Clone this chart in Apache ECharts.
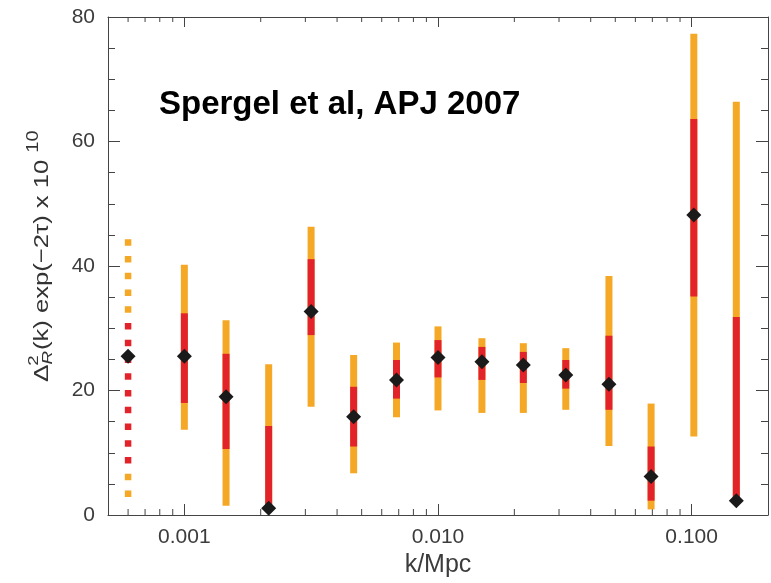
<!DOCTYPE html>
<html><head><meta charset="utf-8">
<script src="https://cdn.jsdelivr.net/npm/echarts@6/dist/echarts.min.js"></script>
<style>html,body{margin:0;padding:0;background:#fff}#c{width:771px;height:583px}</style>
</head><body><div id="c"></div>
<script>
// wavenumber k (1/Mpc) of each band
const kValues   = [0.0006, 0.001, 0.00146, 0.00215, 0.00316, 0.00465, 0.00686, 0.0100, 0.0149, 0.0217, 0.0319, 0.0472, 0.0692, 0.102, 0.150];
// best-fit amplitude (diamonds)
const centerVals = [25.5, 25.5, 19.0, 1.1, 32.7, 15.8, 21.7, 25.3, 24.6, 24.1, 22.5, 21.0, 6.2, 48.2, 2.3];
// 68% range (red)
const redLow   = [8.5, 18.0, 10.6, 1.1, 28.9, 11.0, 18.7, 22.1, 21.7, 21.2, 20.3, 16.9, 2.3, 35.1, 2.3];
const redHigh  = [30.8, 32.4, 25.9, 14.3, 41.1, 20.6, 24.9, 28.1, 27.0, 26.2, 24.9, 28.8, 11.0, 63.6, 31.8];
// 95% range (orange)
const orangeLow  = [3.0, 13.7, 1.5, 1.1, 17.4, 6.7, 15.7, 16.8, 16.4, 16.4, 16.9, 11.1, 0.9, 12.6, 2.3];
const orangeHigh = [44.3, 40.2, 31.3, 24.2, 46.3, 25.7, 27.7, 30.3, 28.4, 27.6, 26.8, 38.4, 17.9, 77.3, 66.4];
// first band drawn dotted
const dottedFlags = [1, 0, 0, 0, 0, 0, 0, 0, 0, 0, 0, 0, 0, 0, 0];
// axis ticks
const yTicks = [0, 20, 40, 60, 80];
const xMinorTicks = [0.0006, 0.0007, 0.0008, 0.0009, 0.002, 0.003, 0.004, 0.005, 0.006, 0.007, 0.008, 0.009,
  0.02, 0.03, 0.04, 0.05, 0.06, 0.07, 0.08, 0.09];
const titleText = 'Spergel et al, APJ 2007';
const xAxisName = 'k/Mpc';

const ORANGE = '#F5A825', RED = '#E3232A', FONT = '"Liberation Sans", Arial, sans-serif';
const AX = '#444';

const solidIdx = kValues.map((k, i) => i).filter(i => !dottedFlags[i]);
const dottedIdx = kValues.map((k, i) => i).filter(i => dottedFlags[i]);

function barSeries(lowArr, highArr, color, z) {
  return {
    type: 'custom', z: z, silent: true, clip: false,
    data: solidIdx.map(i => [kValues[i], lowArr[i], highArr[i]]),
    renderItem: function (params, api) {
      const top = api.coord([api.value(0), api.value(2)]);
      const bot = api.coord([api.value(0), api.value(1)]);
      return { type: 'rect', shape: { x: top[0] - 3.5, y: top[1], width: 7, height: bot[1] - top[1] },
        style: { fill: color } };
    }
  };
}

function lbl(text, x, y, size, extra) {
  return { type: 'text', x: x, y: y,
    style: { text: text, font: (extra || '') + size + 'px ' + FONT, fill: '#333', verticalAlign: 'middle' } };
}

const chart = echarts.init(document.getElementById('c'));
chart.setOption({
  animation: false,
  grid: { left: 108, right: -2, top: 17, bottom: 68 },
  xAxis: [{
    type: 'log', min: 0.0005, max: 0.2, position: 'bottom',
    axisLine: { show: true, onZero: false, lineStyle: { color: AX, width: 1 } },
    axisTick: { show: true, inside: true, length: 11, lineStyle: { color: AX } },
    axisLabel: { color: '#3c3c3c', fontSize: 21, fontFamily: FONT, margin: 12,
      formatter: v => { const l = Math.log10(v); return Math.abs(l - Math.round(l)) < 1e-6 ? v.toFixed(3) : ''; } },
    splitLine: { show: false },
    name: xAxisName, nameLocation: 'middle', nameGap: 36,
    nameTextStyle: { color: '#3c3c3c', fontSize: 25, fontFamily: FONT }
  }, {
    type: 'log', min: 0.0005, max: 0.2, position: 'top',
    axisLine: { show: true, onZero: false, lineStyle: { color: AX, width: 1 } },
    axisTick: { show: true, inside: true, length: 10, lineStyle: { color: AX } },
    axisLabel: { show: false }, splitLine: { show: false }
  }],
  yAxis: [{
    type: 'value', min: yTicks[0], max: yTicks[yTicks.length - 1], interval: yTicks[1] - yTicks[0], position: 'left',
    axisLine: { show: true, lineStyle: { color: AX, width: 1 } },
    axisTick: { show: true, inside: true, length: 12, lineStyle: { color: AX } },
    minorTick: { show: true, splitNumber: 4, length: 7, lineStyle: { color: AX } },
    axisLabel: { color: '#3c3c3c', fontSize: 21, fontFamily: FONT, margin: 13 },
    splitLine: { show: false }
  }, {
    type: 'value', min: yTicks[0], max: yTicks[yTicks.length - 1], interval: yTicks[1] - yTicks[0], position: 'right',
    axisLine: { show: true, lineStyle: { color: AX, width: 1 } },
    axisTick: { show: true, inside: true, length: 12, lineStyle: { color: AX } },
    minorTick: { show: true, splitNumber: 4, length: 7, lineStyle: { color: AX } },
    axisLabel: { show: false }, splitLine: { show: false }
  }],
  graphic: [
    { type: 'text', x: 159, y: 105, z: 10,
      style: { text: titleText, font: 'bold 33px ' + FONT, fill: '#000', verticalAlign: 'middle' } },
    { type: 'group', x: 42, y: 382, rotation: Math.PI / 2, scaleX: 1.25, children: [
      lbl('Δ', 0, 0, 21),
      lbl('2', 13, -8, 15),
      lbl('R', 14, 6, 15, 'italic '),
      lbl('(k) exp(−2τ) x 10', 25.6, 0, 20.5),
      lbl('10', 183.5, -8, 16)
    ] }
  ],
  series: [
    // minor ticks on the log axes (2..9 of each decade)
    { type: 'custom', silent: true, clip: false, z: 1,
      data: xMinorTicks.map(v => [v]),
      renderItem: function (params, api) {
        const b = api.coord([api.value(0), yTicks[0]]);
        const t = api.coord([api.value(0), yTicks[yTicks.length - 1]]);
        return { type: 'group', children: [
          { type: 'line', shape: { x1: b[0], y1: b[1], x2: b[0], y2: b[1] - 6 }, style: { stroke: AX, lineWidth: 1 } },
          { type: 'line', shape: { x1: t[0], y1: t[1], x2: t[0], y2: t[1] + 5 }, style: { stroke: AX, lineWidth: 1 } }
        ] };
      } },
    barSeries(orangeLow, orangeHigh, ORANGE, 2),
    barSeries(redLow, redHigh, RED, 3),
    // dotted band
    { type: 'custom', silent: true, clip: false, z: 3,
      data: dottedIdx.map(i => [kValues[i], orangeLow[i], orangeHigh[i], redLow[i], redHigh[i]]),
      renderItem: function (params, api) {
        const x = api.value(0);
        const oTop = api.coord([x, api.value(2)])[1], oBot = api.coord([x, api.value(1)])[1];
        const rTop = api.coord([x, api.value(4)])[1], rBot = api.coord([x, api.value(3)])[1];
        const px = api.coord([x, api.value(1)])[0];
        const kids = [];
        const size = 6.5, step = 16.75;
        for (let y = oTop; y + size <= oBot + 1; y += step) {
          const c = y + size / 2;
          kids.push({ type: 'rect', shape: { x: px - size / 2, y: y, width: size, height: size },
            style: { fill: (c >= rTop && c <= rBot) ? RED : ORANGE } });
        }
        return { type: 'group', children: kids };
      } },
    { type: 'scatter', z: 5, silent: true, symbol: 'diamond', symbolSize: [15, 15],
      itemStyle: { color: '#1a1a1a', opacity: 1 },
      data: kValues.map((k, i) => [k, centerVals[i]]) }
  ]
});
</script>
</body></html>
